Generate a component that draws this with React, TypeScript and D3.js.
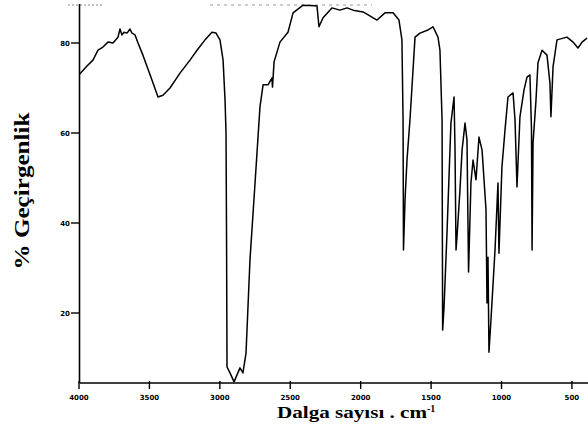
import React from "react";
import * as d3 from "d3";

const wavenumbers = [
  3995, 3943, 3901, 3865, 3830, 3794, 3759, 3723, 3709, 3695, 3680, 3659, 3638, 3624, 3602, 3581,
  3546, 3482, 3439, 3404, 3354, 3283, 3212, 3162, 3105, 3056, 3027, 2999, 2977, 2963, 2956, 2952,
  2949, 2928, 2899, 2857, 2836, 2814, 2786, 2750, 2715, 2693, 2658, 2630, 2626, 2615, 2573, 2516,
  2480, 2409, 2324, 2310, 2296, 2267, 2204, 2147, 2097, 2054, 1983, 1884, 1827, 1770, 1728, 1707,
  1699, 1696, 1685, 1671, 1650, 1614, 1579, 1522, 1486, 1451, 1437, 1422, 1418, 1408, 1387, 1359,
  1337, 1330, 1323, 1316, 1295, 1280, 1259, 1245, 1234, 1217, 1202, 1181, 1160, 1138, 1110, 1103,
  1096, 1089, 1075, 1046, 1025, 1018, 997, 975, 954, 918, 904, 890, 869, 840, 819, 798, 787, 783,
  776, 755, 741, 712, 677, 656, 649, 634, 606, 535, 492, 457, 443, 428, 393,
];
const transmittance = [
  73.1, 74.9, 76.2, 78.4, 79.1, 80.2, 80.0, 81.3, 83.1, 81.8, 82.4, 82.2, 83.1, 82.2, 81.8, 80.0,
  77.3, 71.8, 68.0, 68.4, 70.0, 73.3, 76.2, 78.4, 80.7, 82.4, 82.2, 80.7, 76.2, 67.3, 60.0, 34.0,
  8.0, 6.7, 4.7, 7.8, 6.7, 11.1, 31.8, 48.9, 65.8, 70.7, 70.7, 72.2, 70.2, 75.8, 80.2, 82.4,
  86.7, 88.4, 88.3, 88.2, 83.6, 85.6, 87.8, 87.3, 87.8, 87.3, 86.9, 85.1, 86.7, 86.7, 85.1, 80.7,
  62.9, 34.0, 45.1, 54.0, 62.9, 81.3, 82.2, 82.9, 83.6, 81.3, 78.4, 62.9, 16.2, 21.3, 37.8, 62.2,
  68.0, 56.2, 34.0, 36.9, 47.3, 56.2, 62.2, 58.4, 29.1, 48.9, 54.0, 49.6, 59.1, 56.2, 42.9, 22.2,
  32.4, 11.3, 18.4, 34.0, 48.9, 33.3, 52.4, 60.7, 68.0, 68.9, 62.9, 48.0, 63.6, 69.6, 72.4, 72.9, 60.7, 34.0,
  57.8, 67.3, 75.6, 78.4, 77.3, 71.1, 63.6, 74.7, 80.7, 81.3, 80.2, 78.9, 79.5, 80.2, 81.1,
];
const xTicks = [4000, 3500, 3000, 2500, 2000, 1500, 1000, 500];
const yTicks = [20, 40, 60, 80];

export default function App() {
  const x = d3.scaleLinear().domain([4000, 400]).range([79, 586]);
  const y = d3.scaleLinear().domain([0, 100]).range([403, -47]);
  const pts = wavenumbers.map((w, i) => [w, transmittance[i]] as [number, number]);
  const line = d3
    .line<[number, number]>()
    .x((d) => x(d[0]))
    .y((d) => y(d[1]))
    .curve(d3.curveLinear);
  const axisY = 383;
  const axisX = 79.5;
  return (
    <svg width={588} height={431} style={{ position: "absolute", left: 0, top: 0, background: "#fff" }}>
      <rect width={588} height={431} fill="#fff" />
      {/* faint header dotted line */}
      <line x1={68} x2={104} y1={5} y2={5} stroke="#888" strokeWidth={1} strokeDasharray="2,2" />
      <line x1={210} x2={372} y1={5} y2={5} stroke="#999" strokeWidth={1} strokeDasharray="3,4" />
      {/* axes */}
      <line x1={axisX} x2={axisX} y1={4} y2={axisY} stroke="#000" strokeWidth={1.6} />
      <line x1={axisX} x2={588} y1={axisY} y2={axisY} stroke="#000" strokeWidth={1.6} />
      {xTicks.map((t) => (
        <g key={t}>
          <line x1={x(t)} x2={x(t)} y1={axisY - 2} y2={axisY + 6} stroke="#000" strokeWidth={1.4} />
          <text
            x={x(t)}
            y={400}
            textAnchor="middle"
            fontFamily="DejaVu Sans, sans-serif"
            fontWeight="bold"
            fontSize={7}
          >
            {t}
          </text>
        </g>
      ))}
      {yTicks.map((t) => (
        <g key={t}>
          <line x1={71} x2={axisX} y1={y(t)} y2={y(t)} stroke="#000" strokeWidth={1.4} />
          <text
            x={70}
            y={y(t) + 2.5}
            textAnchor="end"
            fontFamily="DejaVu Sans, sans-serif"
            fontWeight="bold"
            fontSize={7}
          >
            {t}
          </text>
        </g>
      ))}
      <path d={line(pts) || ""} fill="none" stroke="#000" strokeWidth={1.5} strokeLinejoin="round" />
      <text
        transform="translate(29,191) rotate(-90)"
        textAnchor="middle"
        fontFamily="Liberation Serif, Times New Roman, serif"
        fontWeight="bold"
        fontSize={22}
        textLength={157}
        lengthAdjust="spacingAndGlyphs"
      >
        % Geçirgenlik
      </text>
      <text
        x={277}
        y={418}
        fontFamily="Liberation Serif, Times New Roman, serif"
        fontWeight="bold"
        fontSize={17}
      >
        <tspan textLength={150} lengthAdjust="spacingAndGlyphs">Dalga sayısı . cm</tspan>
        <tspan dy={-6} fontSize={10}>-1</tspan>
      </text>
    </svg>
  );
}
